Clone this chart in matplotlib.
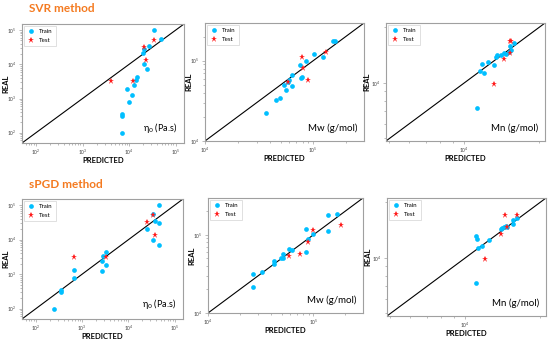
import numpy as np
import matplotlib
matplotlib.use('Agg')
import matplotlib.pyplot as plt
from matplotlib.ticker import NullFormatter

plt.rcParams['font.family'] = ['Lato', 'DejaVu Sans']

# ---------------------------------------------------------------
# Data (predicted value, real value)
# ---------------------------------------------------------------

# SVR method, zero shear viscosity (Pa.s)
svr_eta_train_pred = [33900, 49000, 26900, 20900, 20400, 20900, 24500, 14500,
                      13800, 12900, 8900, 11500, 10200, 6900, 6900, 7200]
svr_eta_train_real = [100000, 56200, 35500, 28800, 20900, 10500, 7080, 4270,
                      3470, 2570, 1900, 1290, 810, 360, 300, 100]
svr_eta_test_pred = [34700, 21400, 23400, 12000, 4070]
svr_eta_test_real = [50100, 32400, 13800, 3240, 3160]

# SVR method, Mw (g/mol)
svr_mw_train_pred = [36300, 45700, 49000, 56200, 53700, 63100, 58900, 60300, 63100,
                     77600, 79400, 75900, 85100, 102000, 123000, 151000, 158000]
svr_mw_train_real = [22400, 32400, 33900, 42700, 50100, 47900, 53700, 57500, 66100,
                     60300, 63100, 89100, 100000, 120000, 112000, 174000, 178000]
svr_mw_test_pred = [58900, 79400, 81300, 89100, 132000]
svr_mw_test_real = [55000, 112000, 81300, 57500, 129000]

# SVR method, Mn (g/mol)
svr_mn_train_pred = [11270, 11590, 11800, 12050, 12420, 13210, 13370, 13490,
                     14060, 14520, 14660, 15170, 15310, 15490, 15890]
svr_mn_train_real = [7310, 11590, 12650, 11300, 13030, 12450, 13740, 14090,
                     14090, 14620, 14320, 14760, 15920, 15000, 16520]
svr_mn_test_pred = [13120, 14490, 15240, 15490, 15310]
svr_mn_test_real = [9840, 13460, 16790, 16790, 14590]

# sPGD method, zero shear viscosity (Pa.s)
spgd_eta_train_pred = [245, 355, 355, 676, 676, 2690, 2750, 2820, 3240,
                       3240, 25700, 33900, 45700, 46800, 37200, 33900, 46800]
spgd_eta_train_real = [100, 347, 302, 776, 1320, 1260, 2450, 3390, 1860,
                       4270, 20400, 10000, 100000, 29500, 34700, 55000, 6920]
spgd_eta_test_pred = [676, 3240, 25100, 33900, 37200]
spgd_eta_test_real = [3160, 3090, 32400, 51300, 13500]

# sPGD method, Mw (g/mol)
spgd_mw_train_pred = [26900, 26900, 32400, 42700, 42700, 49000, 51300, 51300, 58900,
                      63100, 85100, 89100, 100000, 85100, 138000, 138000, 166000]
spgd_mw_train_real = [21400, 31600, 33100, 41700, 46800, 50100, 50100, 57500, 66100,
                      63100, 60300, 89100, 102000, 120000, 112000, 178000, 182000]
spgd_mw_test_pred = [58900, 74100, 89100, 100000, 182000]
spgd_mw_test_real = [53700, 56200, 81300, 115000, 132000]

# sPGD method, Mn (g/mol)
spgd_mn_train_pred = [11070, 11020, 11170, 11270, 11700, 12450, 13870,
                      14090, 14350, 14590, 14760, 15560, 15560, 16140]
spgd_mn_train_real = [7310, 13120, 12710, 11350, 11670, 12530, 14290,
                      14450, 14760, 14890, 14690, 15310, 16110, 16520]
spgd_mn_test_pred = [11990, 13960, 14520, 14720, 16140]
spgd_mn_test_real = [9890, 13460, 17020, 14760, 17020]

row_titles = ['SVR method', 'sPGD method']
panel_labels = ['η$_0$ (Pa.s)', 'Mw (g/mol)', 'Mn (g/mol)']

# ---------------------------------------------------------------
# Figure set up: 550 x 341 pixels
# ---------------------------------------------------------------
W, H = 550, 341
fig = plt.figure(figsize=(W / 100, H / 100), dpi=100)

BLUE = '#00BFFF'
RED = '#FF1A1A'
FRAME = '#A0A0A0'


def make_axes(left, right, top, bottom):
    # axes box given in pixels measured from the top left corner
    ax = fig.add_axes([left / W, 1 - bottom / H, (right - left) / W, (bottom - top) / H])
    ax.px_size = (right - left, bottom - top)
    return ax


def draw_panel(ax, tr_x, tr_y, te_x, te_y, lims, label, fs_label, ylab_off):
    ax.set_xscale('log')
    ax.set_yscale('log')
    # y = x reference line from corner to corner
    ax.plot(lims, lims, color='black', lw=0.8, zorder=1)
    ax.plot(tr_x, tr_y, 'o', color=BLUE, ms=3.4, mew=0, label='Train', zorder=2)
    ax.plot(te_x, te_y, '*', color=RED, ms=5, mew=0, label='Test', zorder=3)
    ax.set_xlim(lims)
    ax.set_ylim(lims)

    ax.set_xlabel('PREDICTED', fontsize=5.5, fontweight='bold')
    ax.set_ylabel('REAL', fontsize=5.5, fontweight='bold')
    # axis label positions (in pixels away from the axes box)
    w_px, h_px = ax.px_size
    ax.xaxis.set_label_coords(0.5, -14 / h_px)
    ax.yaxis.set_label_coords(-ylab_off / w_px, 0.5)

    ax.tick_params(which='both', labelsize=3.5, labelcolor='#444444',
                   color=FRAME, width=0.5, pad=1.2)
    ax.tick_params(which='major', length=2.5)
    ax.tick_params(which='minor', length=1.5)
    ax.xaxis.set_minor_formatter(NullFormatter())
    ax.yaxis.set_minor_formatter(NullFormatter())
    for s in ax.spines.values():
        s.set_color(FRAME)
        s.set_linewidth(0.8)

    leg = ax.legend(loc='upper left', fontsize=4.4, handletextpad=0.7,
                    borderpad=0.5, labelspacing=0.6, handlelength=1.3,
                    frameon=True, fancybox=False, borderaxespad=0.3)
    leg.get_frame().set_edgecolor('#C8C8C8')
    leg.get_frame().set_linewidth(0.5)

    ax.text(0.96, 0.07, label, transform=ax.transAxes, ha='right', va='bottom',
            fontsize=fs_label)


eta_lims = [10 ** 1.70, 10 ** 5.18]
mw_lims = [10 ** 4.0, 10 ** 5.47]
mn_lims = [10 ** 3.685, 10 ** 4.325]

# top row: SVR
ax1 = make_axes(22, 184, 24, 143)
draw_panel(ax1, svr_eta_train_pred, svr_eta_train_real, svr_eta_test_pred,
           svr_eta_test_real, eta_lims, panel_labels[0], 6.5, 13)
ax2 = make_axes(205, 364, 23, 141)
draw_panel(ax2, svr_mw_train_pred, svr_mw_train_real, svr_mw_test_pred,
           svr_mw_test_real, mw_lims, panel_labels[1], 7, 13)
ax3 = make_axes(386, 545, 23, 141)
draw_panel(ax3, svr_mn_train_pred, svr_mn_train_real, svr_mn_test_pred,
           svr_mn_test_real, mn_lims, panel_labels[2], 7, 16)

# bottom row: sPGD
ax4 = make_axes(22, 183, 199, 319)
draw_panel(ax4, spgd_eta_train_pred, spgd_eta_train_real, spgd_eta_test_pred,
           spgd_eta_test_real, eta_lims, panel_labels[0], 6.5, 13)
ax5 = make_axes(208, 363, 198, 313)
draw_panel(ax5, spgd_mw_train_pred, spgd_mw_train_real, spgd_mw_test_pred,
           spgd_mw_test_real, mw_lims, panel_labels[1], 7, 13)
ax6 = make_axes(387, 546, 198, 316)
draw_panel(ax6, spgd_mn_train_pred, spgd_mn_train_real, spgd_mn_test_pred,
           spgd_mn_test_real, mn_lims, panel_labels[2], 7, 16)

# row titles in orange
fig.text(29 / W, 1 - 8 / H, row_titles[0], color='#F47A20', fontsize=8.5,
         fontweight='bold', ha='left', va='center')
fig.text(29 / W, 1 - 185 / H, row_titles[1], color='#F47A20', fontsize=8.5,
         fontweight='bold', ha='left', va='center')

fig.savefig('out.png', dpi=100)
